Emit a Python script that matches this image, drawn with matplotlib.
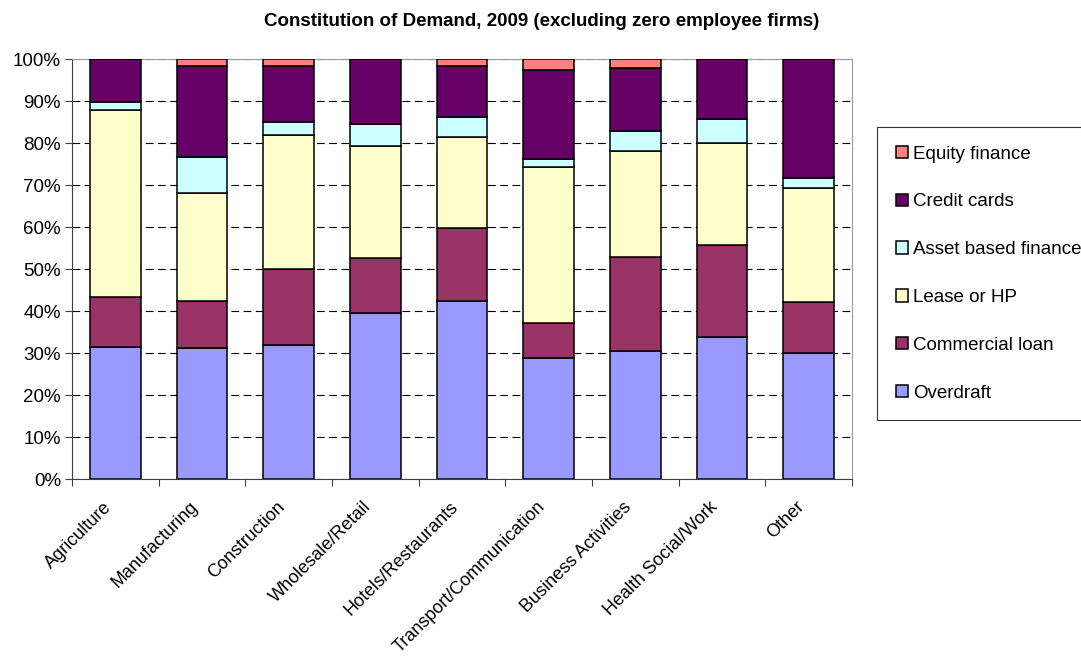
import numpy as np
import matplotlib
matplotlib.use("Agg")
import matplotlib.pyplot as plt
from matplotlib.ticker import FuncFormatter
from matplotlib.transforms import ScaledTranslation

plt.rcParams["font.family"] = ["Liberation Sans", "DejaVu Sans"]

# Data (percent of demand)
categories = ["Agriculture", "Manufacturing", "Construction", "Wholesale/Retail",
              "Hotels/Restaurants", "Transport/Communication", "Business Activities",
              "Health Social/Work", "Other"]
overdraft = [31.4, 31.1, 31.9, 39.6, 42.3, 28.9, 30.4, 33.9, 30.1]
commercial_loan = [11.9, 11.2, 18.2, 13.1, 17.4, 8.3, 22.5, 21.7, 12.0]
lease_hp = [44.5, 25.8, 31.9, 26.5, 21.7, 37.0, 25.3, 24.3, 27.2]
asset_based = [2.0, 8.5, 3.1, 5.4, 4.7, 2.1, 4.6, 5.8, 2.3]
credit_cards = [10.2, 21.7, 13.2, 15.4, 12.2, 21.0, 15.0, 14.3, 28.4]
equity = [0.0, 1.7, 1.7, 0.0, 1.7, 2.7, 2.2, 0.0, 0.0]

series = [
    ("Overdraft", overdraft, "#9999FF"),
    ("Commercial loan", commercial_loan, "#993366"),
    ("Lease or HP", lease_hp, "#FFFFCC"),
    ("Asset based finance", asset_based, "#CCFFFF"),
    ("Credit cards", credit_cards, "#660066"),
    ("Equity finance", equity, "#FF8080"),
]

fig = plt.figure(figsize=(10.81, 6.60), dpi=100)
ax = fig.add_axes([72 / 1081, 1 - 479 / 660, 780 / 1081, 420 / 660])

x = np.arange(len(categories))
bottom = np.zeros(len(categories))
handles = []
for name, vals, color in series:
    vals = np.array(vals)
    b = ax.bar(x, vals, width=0.585, bottom=bottom, color=color,
               edgecolor="black", linewidth=1.1, label=name, zorder=3)
    handles.append(b)
    bottom += vals

ax.set_xlim(-0.5, len(categories) - 0.5)
ax.set_ylim(0, 100)

# gridlines
ax.set_yticks(np.arange(0, 101, 10))
ax.yaxis.set_major_formatter(FuncFormatter(lambda v, p: f"{int(v)}%"))
ax.grid(axis="y", color="black", linestyle=(0, (7, 4)), linewidth=0.8, zorder=1)

# ticks at category boundaries, labels at centres
ax.set_xticks(np.arange(-0.5, len(categories), 1))
ax.set_xticklabels([])
ax.set_xticks(x, minor=True)
ax.set_xticklabels(categories, minor=True, rotation=45, ha="right",
                   rotation_mode="anchor", fontsize=13)
ax.tick_params(axis="x", which="minor", length=0, pad=4)
ax.tick_params(axis="x", which="major", length=5, direction="out", color="#404040")
ax.tick_params(axis="y", length=5, direction="out", color="#404040", labelsize=13.5, pad=3)
shift = ScaledTranslation(-9 / 72, -10 / 72, fig.dpi_scale_trans)
for lbl in ax.get_xticklabels(minor=True):
    lbl.set_transform(lbl.get_transform() + shift)

for s in ["top", "right"]:
    ax.spines[s].set_color("#999999")
for s in ["left", "bottom"]:
    ax.spines[s].set_color("#404040")

fig.text(542 / 1081, 1 - 22 / 660, "Constitution of Demand, 2009 (excluding zero employee firms)",
         ha="center", va="center", fontsize=13.5, fontweight="bold")

leg = fig.legend(handles[::-1], [s[0] for s in series][::-1],
                 loc="upper left", bbox_to_anchor=(877 / 1081, 1 - 127 / 660),
                 fontsize=13.5, frameon=True, fancybox=False, edgecolor="black",
                 handlelength=0.65, handleheight=0.65, handletextpad=0.25,
                 labelspacing=1.64, borderpad=1.0, borderaxespad=0)
leg.get_frame().set_linewidth(0.8)

fig.savefig("out.png", dpi=100)
